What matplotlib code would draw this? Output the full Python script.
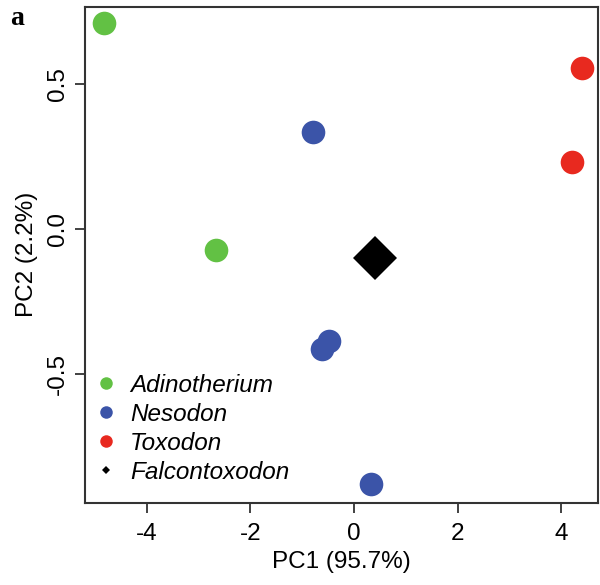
import matplotlib
matplotlib.use("Agg")
import matplotlib.pyplot as plt
from matplotlib.lines import Line2D

plt.rcParams['font.family'] = ['Liberation Sans', 'DejaVu Sans']

# PCA scores
species = ["Adinotherium", "Nesodon", "Toxodon"]
colors = ["#62c144", "#3b54a8", "#e8291f"]
pc1 = [[-4.83, -2.66], [-0.79, -0.48, -0.62, 0.33], [4.40, 4.20]]
pc2 = [[0.711, -0.072], [0.335, -0.386, -0.415, -0.880], [0.555, 0.230]]
falco_pc1 = [0.405]
falco_pc2 = [-0.101]

fs = 17.5

fig = plt.figure(figsize=(6, 5.85), dpi=100)
ax = fig.add_axes([0.141, 0.141, 0.856, 0.847])

for name, c, xs, ys in zip(species, colors, pc1, pc2):
    ax.plot(xs, ys, 'o', color=c, markersize=17, markeredgewidth=0, label=name)
ax.plot(falco_pc1, falco_pc2, 'D', color='black', markersize=22, markeredgewidth=0,
        label="Falcontoxodon")

ax.set_xlim(-5.20, 4.71)
ax.set_ylim(-0.945, 0.766)
ax.set_xticks([-4, -2, 0, 2, 4])
ax.set_xticklabels(["-4", "-2", "0", "2", "4"])
ax.set_yticks([-0.5, 0.0, 0.5])
ax.set_yticklabels(["-0.5", "0.0", "0.5"], rotation=90, va='center')
ax.tick_params(length=7, width=1.3, color='#333333', labelsize=fs)
ax.tick_params(axis='x', pad=8)
ax.tick_params(axis='y', pad=4)
for s in ax.spines.values():
    s.set_linewidth(1.5)
    s.set_color('#333333')

ax.set_xlabel("PC1 (95.7%)", fontsize=fs, labelpad=4)
ax.set_ylabel("PC2 (2.2%)", fontsize=fs, labelpad=7)

handles = [Line2D([], [], ls='', marker='o', color=c, markersize=9, markeredgewidth=0)
           for c in colors]
handles.append(Line2D([], [], ls='', marker='D', color='black', markersize=4.5, markeredgewidth=0))
labels = species + ["Falcontoxodon"]
leg = ax.legend(handles, labels, loc='lower left', frameon=False, fontsize=fs,
                handlelength=1.0, handletextpad=0.46, labelspacing=0.25,
                borderpad=0.4, borderaxespad=0, bbox_to_anchor=(0.0, 0.018))
for t in leg.get_texts():
    t.set_style('italic')

fig.text(0.017, 0.957, "a", fontsize=20, fontweight='bold', family='Liberation Serif')

fig.savefig("out.png", dpi=100)
